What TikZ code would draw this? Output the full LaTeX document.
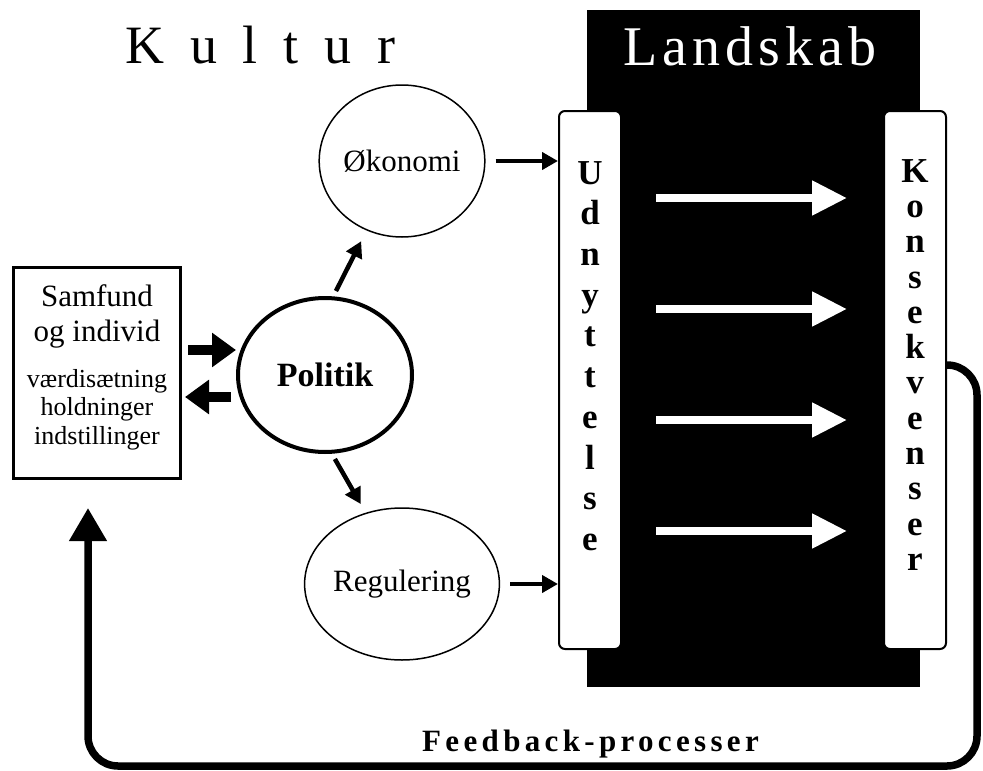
\documentclass[tikz,border=0pt]{standalone}
\usepackage{fontspec}
\setmainfont{Liberation Serif}
\newfontfamily\widefont[LetterSpace=48]{Liberation Serif}
\newfontfamily\tightfont[LetterSpace=9]{Liberation Serif}
\newfontfamily\fbfont[LetterSpace=14]{Liberation Serif}
\usetikzlibrary{arrows.meta, shapes.geometric}

\begin{document}
\begin{tikzpicture}[x=1pt, y=-1pt,
    thinarrow/.style={line width=4.5pt, -{Triangle[length=16pt,width=17pt]}},
    fatarrow/.style={line width=10pt, -{Triangle[length=24pt,width=33pt]}},
    whitearrow/.style={white, line width=8pt, -{Triangle[length=35pt,width=33pt]}},
    feedback/.style={line width=7.5pt, rounded corners=30pt, -{Triangle[length=33pt,width=36pt]}},
    circ/.style={ellipse, draw, line width=1.5pt, inner sep=0pt, minimum width=160pt, minimum height=152pt, font=\fontsize{31}{36}\selectfont},
    bar/.style={draw, fill=white, line width=2pt, rounded corners=6pt, minimum width=62pt, minimum height=538pt},
    letters/.style={align=center, inner sep=0pt, anchor=north, font=\bfseries\fontsize{35}{#1}\selectfont}]
      \useasboundingbox (0,0) rectangle (983,771);

      % landscape
      \fill (587,10) rectangle (920,687);
      \node[bar] (udn) at (590,380) {};
      \node[bar] (kon) at (915,380) {};
      \node[letters=40.7] (udntxt) at (590,161) {U\\d\\n\\y\\t\\t\\e\\l\\s\\e};
      \node[letters=35.3] (kontxt) at (915,159) {K\\o\\n\\s\\e\\k\\v\\e\\n\\s\\e\\r};
      \foreach \y in {198,309,420,531}
        \draw[whitearrow, shorten <=34pt, shorten >=36pt] (udn.east |- 0,\y) -- (kon.west |- 0,\y);

      % titles
      \node[anchor=base west, inner sep=0pt, font=\widefont\fontsize{54}{60}\selectfont] (kultur) at (125,63) {Kultur};
      \node[anchor=base west, inner sep=0pt, text=white, font=\tightfont\fontsize{56}{62}\selectfont] (landskab) at (623,65) {Landskab};

      % culture
      \node[draw, line width=3pt, minimum width=167pt, minimum height=211pt, inner sep=0pt] (sam) at (97,373) {};
      \node[anchor=north, align=center, inner sep=0pt, font=\fontsize{31}{35}\selectfont] (samtop) at (97,284) {Samfund\\og individ};
      \node[anchor=north, align=center, inner sep=0pt, font=\fontsize{26}{28.5}\selectfont] (samsub) at (97,369) {værdisætning\\holdninger\\indstillinger};
      \node[circ] (oko) at (402,161) {Økonomi};
      \node[circ, line width=4pt, minimum width=174pt, minimum height=154pt, font=\bfseries\fontsize{34}{40}\selectfont] (pol) at (325,375) {Politik};
      \node[circ] (reg) at (402,584) {Regulering};

      % arrows
      \draw[fatarrow, shorten <=6pt] ([yshift=23pt]sam.east) -- ([yshift=23pt]sam.east -| pol.west);
      \draw[fatarrow, shorten <=5pt, shorten >=3pt] ([yshift=-24pt]sam.east -| pol.west) -- ([yshift=-24pt]sam.east);
      \draw[thinarrow, shorten <=6pt, shorten >=12pt] (pol.84) -- (oko.243);
      \draw[thinarrow, shorten <=6pt, shorten >=10pt] (pol.275) -- (reg.117);
      \draw[thinarrow, shorten <=10pt] (oko.east) -- (oko.east -| udn.west);
      \draw[thinarrow, shorten <=10pt] (reg.east) -- (reg.east -| udn.west);

      % feedback
      \coordinate (fbend) at (88,508);
      \draw[feedback] ([yshift=15pt]kon.east) -- (977,365) -- (977,766) -- (88,766) -- (fbend);
      \node[anchor=base west, inner sep=0pt, font=\fbfont\bfseries\fontsize{31}{36}\selectfont] (fbtxt) at (422,751) {Feedback-processer};
    \end{tikzpicture}
\end{document}
